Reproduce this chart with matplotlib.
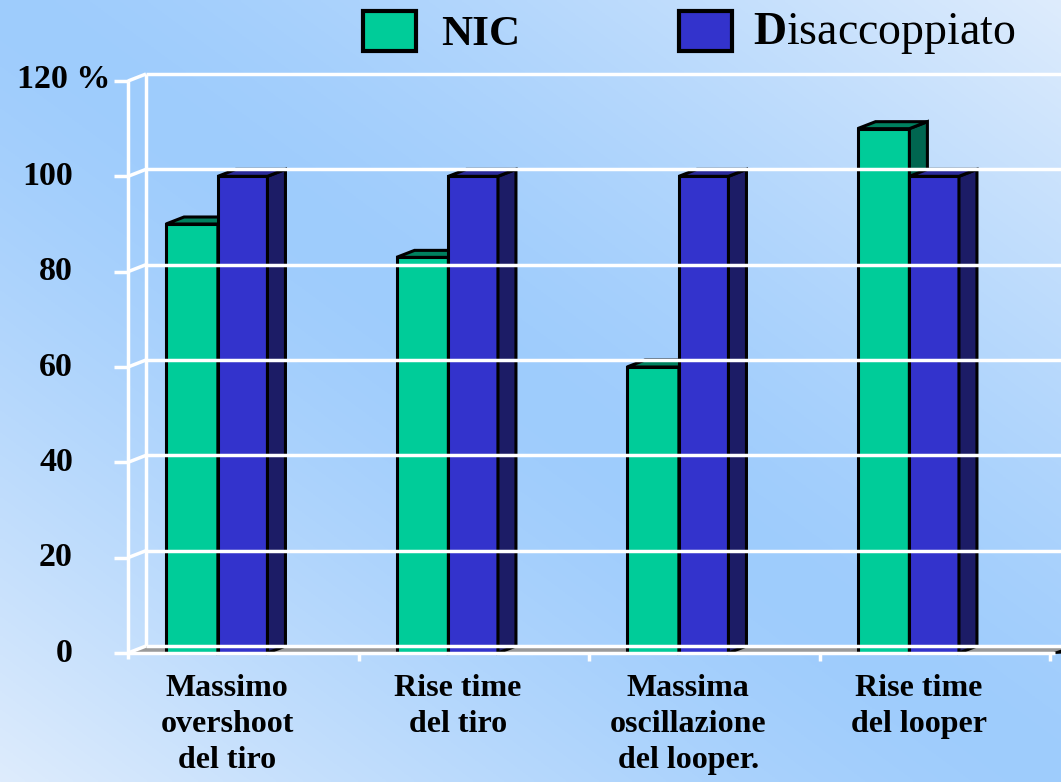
import numpy as np
import matplotlib
matplotlib.use('Agg')
import matplotlib.pyplot as plt
from matplotlib.patches import Polygon, Rectangle

plt.rcParams['font.family'] = ['Liberation Serif', 'DejaVu Serif']
plt.rcParams['mathtext.fontset'] = 'custom'
plt.rcParams['mathtext.rm'] = 'Liberation Serif'
plt.rcParams['mathtext.bf'] = 'Liberation Serif:bold'

# dati
categorie = ['Massimo\novershoot\ndel tiro', 'Rise time\ndel tiro',
             'Massima\noscillazione\ndel looper.', 'Rise time\ndel looper']
nic = [90, 83, 60, 110]
disaccoppiato = [100, 100, 100, 100]
y_ticks = [0, 20, 40, 60, 80, 100, 120]
y_labels = ['0', '20', '40', '60', '80', '100', '120 %']

W, H = 1061, 782
fig = plt.figure(figsize=(W / 100, H / 100), dpi=100)

# sfondo sfumato
bg = fig.add_axes([0, 0, 1, 1])
U, V = np.meshgrid(np.linspace(0, 1, 400), np.linspace(0, 1, 300))
t = np.clip(np.abs(U - V), 0, 1) ** 1.4
dark = np.array([158, 204, 252]) / 255
light = np.array([222, 236, 253]) / 255
img = dark[None, None, :] * (1 - t[..., None]) + light[None, None, :] * t[..., None]
bg.imshow(img, aspect='auto', extent=[0, 1, 0, 1], origin='upper')
bg.set_axis_off()

# area del grafico (piano frontale)
x0, x1, y0, y1 = 128, 1050, 653, 81
ax = fig.add_axes([x0 / W, (H - y0) / H, (x1 - x0) / W, (y0 - y1) / H])
ax.set_xlim(0, 4)
ax.set_ylim(0, 120)
ax.set_axis_off()

px_x = 4 / (x1 - x0)
px_y = 120 / (y0 - y1)
DX = 18 * px_x
DY = 7 * px_y

wall = dict(color='white', lw=2.5, clip_on=False, solid_capstyle='butt')
# pavimento
ax.add_patch(Polygon([(0, 0), (4.02, 0), (4.02 + DX, DY), (DX, DY)],
                     closed=True, fc='#9a9a9a', ec='none', clip_on=False))
for v in y_ticks:
    ax.plot([DX, 4.7], [v + DY, v + DY], **wall)
    ax.plot([0, DX], [v, v + DY], **wall)
    ax.plot([-14 * px_x, 0], [v, v], **wall)
ax.plot([0, 0], [-1.3, 120], **wall)
ax.plot([DX, DX], [DY, 120 + DY], **wall)
ax.plot([0, 4.02], [0, 0], **wall)
for i in range(1, 5):
    ax.plot([i, i], [0, -8 * px_y], **wall)
ax.add_patch(Polygon([(3.985, -0.3), (4.06, 0.9), (4.06, -0.1)], closed=True,
                     fc='black', ec='none', clip_on=False))


def barra3d(xs, w, h, front, top, side):
    kw = dict(closed=True, ec='black', lw=2.2, joinstyle='miter', clip_on=False)
    ax.add_patch(Polygon([(xs, 0), (xs + w, 0), (xs + w, h), (xs, h)], fc=front, **kw))
    ax.add_patch(Polygon([(xs + w, 0), (xs + w + DX, DY), (xs + w + DX, h + DY), (xs + w, h)],
                         fc=side, **kw))
    ax.add_patch(Polygon([(xs, h), (xs + w, h), (xs + w + DX, h + DY), (xs + DX, h + DY)],
                         fc=top, **kw))


for i in range(len(categorie)):
    barra3d(i + 0.165, 0.225, nic[i], '#00CC99', '#00805F', '#006650')
    barra3d(i + 0.39, 0.215, disaccoppiato[i], '#3333CC', '#2A2A99', '#1C1C66')

# etichette asse y
for v, lab in zip(y_ticks, y_labels):
    if lab.endswith('%'):
        ax.annotate(lab, xy=(0, v), xycoords=ax.get_yaxis_transform(),
                    xytext=(-111, 2), textcoords='offset pixels',
                    ha='left', va='center', fontsize=24.5, fontweight='bold')
    else:
        ax.annotate(lab, xy=(0, v), xycoords=ax.get_yaxis_transform(),
                    xytext=(-55, 0), textcoords='offset pixels',
                    ha='right', va='center', fontsize=24.5, fontweight='bold')

# etichette categorie
for i, lab in enumerate(categorie):
    ax.annotate(lab, xy=(i + 0.43, 0), xytext=(0, -21), textcoords='offset pixels',
                ha='center', va='top', fontsize=23, fontweight='bold', linespacing=1.32)

# legenda
def px(x, y):
    return x / W, 1 - y / H

fig.add_artist(Rectangle(px(363, 51), 53 / W, 40 / H, transform=fig.transFigure,
                         fc='#00CC99', ec='black', lw=3))
fig.add_artist(Rectangle(px(679, 51), 53 / W, 40 / H, transform=fig.transFigure,
                         fc='#3333CC', ec='black', lw=3))
fig.text(*px(441, 45), 'NIC', fontsize=31, fontweight='bold', ha='left', va='baseline')
fig.text(*px(753, 44), r'$\mathbf{D}$isaccoppiato', fontsize=33, ha='left', va='baseline')

fig.savefig('out.png', dpi=100)
